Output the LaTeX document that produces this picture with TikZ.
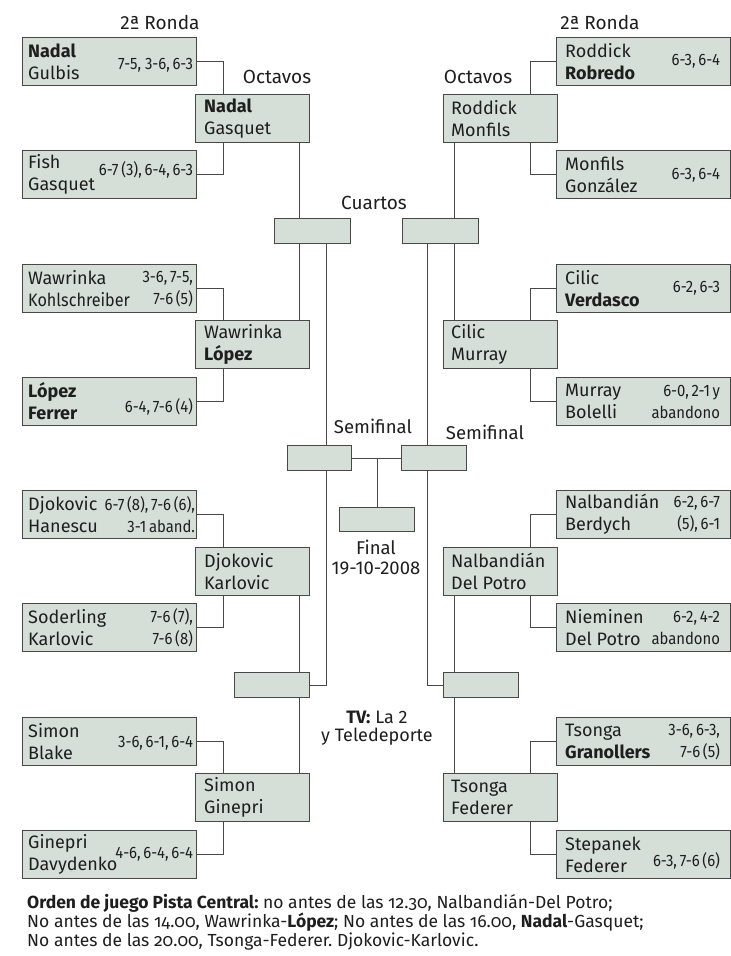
\documentclass[tikz,border=0pt]{standalone}
\usepackage{fontspec}
\setmainfont{Fira Sans}
\newfontfamily\condfont[FakeStretch=0.9]{Fira Sans}
\newfontfamily\narrowfont[FakeStretch=0.9]{Fira Sans}
\newfontfamily\oldfont[Numbers=OldStyle]{Fira Sans}
\usetikzlibrary{calc}
\definecolor{boxfill}{RGB}{213,223,216}
\definecolor{edge}{RGB}{72,72,72}
\definecolor{ink}{RGB}{30,30,30}
\frenchspacing
\begin{document}
\begin{tikzpicture}[x=1pt,y=-1pt,
  bx/.style={draw=edge, line width=1.2pt, fill=boxfill, inner sep=0pt, anchor=north west},
  rb/.style={bx, minimum width=174pt, minimum height=48pt},
  ob/.style={bx, minimum width=114pt, minimum height=48pt},
  nm/.style={inner sep=0pt, align=left, font=\fontsize{18}{22}\selectfont, text=ink, anchor=west},
  sc/.style={inner sep=0pt, align=right, font=\condfont\fontsize{16.5}{22}\selectfont, text=ink, anchor=east},
  lb/.style={inner sep=0pt, font=\fontsize{19}{21}\selectfont, text=ink, align=center},
  cn/.style={draw=edge, line width=1.2pt}
]
\fill[white] (0,0) rectangle (731,956);
\useasboundingbox (0,0) rectangle (731,956);

% ---------- left second round ----------
\node[rb] (L1) at (22,37) {};
\node[nm] (L1t) at ([xshift=6]L1.west) {\textbf{Nadal}\\Gulbis};
\node[sc] (L1s) at ([xshift=-4,yshift=-4]L1.east) {7-5, 3-6,\,6-3};
\node[rb] (L2) at (22,150) {};
\node[nm] (L2t) at ([xshift=6]L2.west) {Fish\\Gasquet};
\node[sc] (L2s) at ([xshift=-4,yshift=5]L2.east) {6-7\,(3),\,6-4,\,6-3};
\node[rb] (L3) at (22,264) {};
\node[nm] (L3t) at ([xshift=6]L3.west) {Wawrinka\\{\narrowfont Kohlschreiber}};
\node[sc] (L3s) at ([xshift=-4]L3.east) {3-6,\,7-5,\\7-6\,(5)};
\node[rb] (L4) at (22,377) {};
\node[nm] (L4t) at ([xshift=6]L4.west) {\textbf{López}\\\textbf{Ferrer}};
\node[sc] (L4s) at ([xshift=-4,yshift=-5]L4.east) {6-4,\,7-6\,(4)};
\node[rb] (L5) at (22,490) {};
\node[nm] (L5t) at ([xshift=6]L5.west) {Djokovic\\Hanescu};
\node[sc] (L5s) at ([xshift=-2]L5.east) {6-7\,(8),\,7-6\,(6),\\3-1\,aband.};
\node[rb] (L6) at (22,603) {};
\node[nm] (L6t) at ([xshift=6]L6.west) {Soderling\\Karlovic};
\node[sc] (L6s) at ([xshift=-4]L6.east) {7-6\,(7),\\7-6\,(8)};
\node[rb] (L7) at (22,717) {};
\node[nm] (L7t) at ([xshift=6]L7.west) {Simon\\Blake};
\node[sc] (L7s) at ([xshift=-4,yshift=-2]L7.east) {3-6,\,6-1,\,6-4};
\node[rb] (L8) at (22,830) {};
\node[nm] (L8t) at ([xshift=6]L8.west) {Ginepri\\Davydenko};
\node[sc] (L8s) at ([xshift=-4]L8.east) {4-6,\,6-4,\,6-4};

% ---------- right second round ----------
\node[rb] (R1) at (556,37) {};
\node[nm] (R1t) at ([xshift=9]R1.west) {Roddick\\\textbf{Robredo}};
\node[sc] (R1s) at ([xshift=-11]R1.east) {6-3,\,6-4};
\node[rb] (R2) at (556,150) {};
\node[nm] (R2t) at ([xshift=9]R2.west) {Monfils\\González};
\node[sc] (R2s) at ([xshift=-11,yshift=-1]R2.east) {6-3,\,6-4};
\node[rb] (R3) at (556,264) {};
\node[nm] (R3t) at ([xshift=9]R3.west) {Cilic\\\textbf{Verdasco}};
\node[sc] (R3s) at ([xshift=-11]R3.east) {6-2,\,6-3};
\node[rb] (R4) at (556,377) {};
\node[nm] (R4t) at ([xshift=9]R4.west) {Murray\\Bolelli};
\node[sc] (R4s) at ([xshift=-11]R4.east) {6-0,\,2-1\,y\\abandono};
\node[rb] (R5) at (556,490) {};
\node[nm] (R5t) at ([xshift=9]R5.west) {Nalbandián\\Berdych};
\node[sc] (R5s) at ([xshift=-11]R5.east) {6-2,\,6-7\\(5),\,6-1};
\node[rb] (R6) at (556,603) {};
\node[nm] (R6t) at ([xshift=9]R6.west) {Nieminen\\Del Potro};
\node[sc] (R6s) at ([xshift=-11]R6.east) {6-2,\,4-2\\abandono};
\node[rb] (R7) at (556,717) {};
\node[nm] (R7t) at ([xshift=9]R7.west) {Tsonga\\\textbf{Granollers}};
\node[sc] (R7s) at ([xshift=-11]R7.east) {3-6,\,6-3,\\7-6\,(5)};
\node[rb] (R8) at (556,830) {};
\node[nm] (R8t) at ([xshift=9]R8.west) {Stepanek\\Federer};
\node[sc] (R8s) at ([xshift=-11,yshift=-6]R8.east) {6-3,\,7-6\,(6)};

% ---------- octavos ----------
\node[ob] (O1) at (195,94) {};
\node[nm] (O1t) at ([xshift=9]O1.west) {\textbf{Nadal}\\Gasquet};
\node[ob] (O2) at (195,320) {};
\node[nm] (O2t) at ([xshift=9]O2.west) {Wawrinka\\\textbf{López}};
\node[ob] (O3) at (195,547) {};
\node[nm] (O3t) at ([xshift=9]O3.west) {Djokovic\\Karlovic};
\node[ob] (O4) at (195,773) {};
\node[nm] (O4t) at ([xshift=9]O4.west) {Simon\\Ginepri};
\node[ob] (P1) at (443,94) {};
\node[nm] (P1t) at ([xshift=8]P1.west) {Roddick\\Monfils};
\node[ob] (P2) at (443,320) {};
\node[nm] (P2t) at ([xshift=8]P2.west) {Cilic\\Murray};
\node[ob] (P3) at (443,547) {};
\node[nm] (P3t) at ([xshift=8]P3.west) {Nalbandián\\Del Potro};
\node[ob] (P4) at (443,773) {};
\node[nm] (P4t) at ([xshift=8]P4.west) {Tsonga\\Federer};

% ---------- empty boxes ----------
\node[bx, minimum width=76pt, minimum height=25pt] (C1) at (274,218) {};
\node[bx, minimum width=76pt, minimum height=25pt] (C2) at (402,218) {};
\node[bx, minimum width=75pt, minimum height=25pt] (C3) at (234,672) {};
\node[bx, minimum width=75pt, minimum height=25pt] (C4) at (443,672) {};
\node[bx, minimum width=64pt, minimum height=25pt] (S1) at (287,445) {};
\node[bx, minimum width=65pt, minimum height=25pt] (S2) at (401,445) {};
\node[bx, minimum width=75pt, minimum height=24pt] (F) at (339,507) {};

% ---------- connectors: second round -> octavos ----------
\draw[cn] (L1.east) -| ([xshift=-29]O1.north);
\draw[cn] (L2.east) -| ([xshift=-29]O1.south);
\draw[cn] (L3.east) -| ([xshift=-29]O2.north);
\draw[cn] (L4.east) -| ([xshift=-29]O2.south);
\draw[cn] (L5.east) -| ([xshift=-29]O3.north);
\draw[cn] (L6.east) -| ([xshift=-29]O3.south);
\draw[cn] (L7.east) -| ([xshift=-29]O4.north);
\draw[cn] (L8.east) -| ([xshift=-29]O4.south);
\draw[cn] (R1.west) -| ([xshift=30]P1.north);
\draw[cn] (R2.west) -| ([xshift=30]P1.south);
\draw[cn] (R3.west) -| ([xshift=30]P2.north);
\draw[cn] (R4.west) -| ([xshift=30]P2.south);
\draw[cn] (R5.west) -| ([xshift=30]P3.north);
\draw[cn] (R6.west) -| ([xshift=30]P3.south);
\draw[cn] (R7.west) -| ([xshift=30]P4.north);
\draw[cn] (R8.west) -| ([xshift=30]P4.south);

% ---------- octavos -> cuartos ----------
\draw[cn] ([xshift=47]O1.south) -- ([xshift=47]O1.south |- C1.north);
\draw[cn] ([xshift=47]O2.north) -- ([xshift=47]O2.north |- C1.south);
\draw[cn] ([xshift=47]O3.south) -- ([xshift=47]O3.south |- C3.north);
\draw[cn] ([xshift=47]O4.north) -- ([xshift=47]O4.north |- C3.south);
\draw[cn] ([xshift=-46]P1.south) -- ([xshift=-46]P1.south |- C2.north);
\draw[cn] ([xshift=-46]P2.north) -- ([xshift=-46]P2.north |- C2.south);
\draw[cn] ([xshift=-46]P3.south) -- ([xshift=-46]P3.south |- C4.north);
\draw[cn] ([xshift=-46]P4.north) -- ([xshift=-46]P4.north |- C4.south);

% ---------- cuartos -> semifinal ----------
\coordinate (lx) at ([xshift=14]C1.south);
\coordinate (rx) at ([xshift=-13]C2.south);
\draw[cn] (lx) -- (lx |- S1.north);
\draw[cn] (S1.south -| lx) |- (C3.east);
\draw[cn] (rx) -- (rx |- S2.north);
\draw[cn] (S2.south -| rx) |- (C4.west);

% ---------- semifinal -> final ----------
\draw[cn] (S1.east) -- (S2.west);
\draw[cn] (F.north) -- (F.north |- S1.east);

% ---------- labels ----------
\node[lb] (rl) at (160,22) {2ª Ronda};
\node[lb] (rr) at (600,22) {2ª Ronda};
\node[lb] (ol) at (277,77) {Octavos};
\node[lb] (or) at (478,77) {Octavos};
\node[lb] (cu) at (374,203) {Cuartos};
\node[lb, font=\fontsize{18.5}{21}\selectfont] (sl) at (373,426) {Semifinal};
\node[lb, font=\fontsize{18.5}{21}\selectfont] (sr) at (485,432) {Semifinal};
\node[lb, font=\fontsize{18.5}{20}\selectfont] (fi) at (376,557) {Final\\19-10-2008};
\node[lb, font=\fontsize{18}{18.5}\selectfont] (tv) at (377,728) {\textbf{TV:} La 2\\y Teledeporte};

% ---------- footer ----------
\node[inner sep=0pt, anchor=west, align=left, text=ink,
      font=\oldfont\fontsize{17.5}{19}\selectfont] (foot) at (27,922)
 {\textbf{Orden de juego Pista Central:} no antes de las 12.30, Nalbandián-Del Potro;\\
  No antes de las 14.00, Wawrinka-\textbf{López}; No antes de las 16.00, \textbf{Nadal}-Gasquet;\\
  No antes de las 20.00, Tsonga-Federer. Djokovic-Karlovic.};
\end{tikzpicture}
\end{document}
